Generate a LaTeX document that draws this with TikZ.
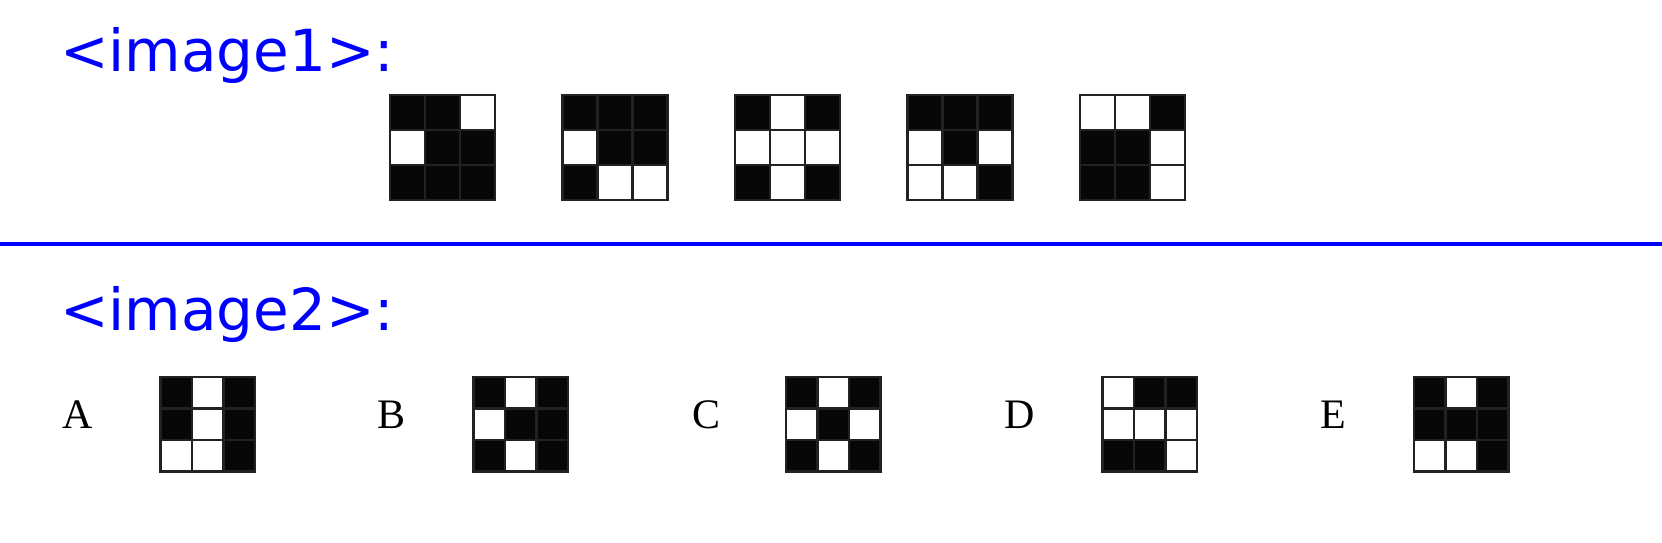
\documentclass[tikz,border=0pt]{standalone}
\usepackage{fontspec}
\setmainfont{Liberation Serif}
\newfontfamily\labfont{DejaVu Sans}
\definecolor{cellblack}{HTML}{070707}
\definecolor{gridline}{HTML}{222222}
\newcommand\drawpat[4]{%
  \foreach \v [count=\i from 0] in {#4} {%
    \pgfmathtruncatemacro\rr{int(\i/3)}%
    \pgfmathtruncatemacro\cc{\i-3*\rr}%
    \ifnum\v=1
      \fill[cellblack] ({#1+\cc*#3/3},{#2+\rr*#3/3}) rectangle ++({#3/3},{#3/3});
    \fi
  }
  \draw[gridline, line width=2.6] (#1,#2) rectangle ++(#3,#3);
  \draw[gridline, line width=2.2] ({#1+#3/3},#2) -- ++(0,#3) ({#1+2*#3/3},#2) -- ++(0,#3)
    (#1,{#2+#3/3}) -- ++(#3,0) (#1,{#2+2*#3/3}) -- ++(#3,0);
}
\tikzset{
  head/.style={text=blue, font=\labfont\fontsize{58}{60}\selectfont, inner sep=0pt, anchor=base west},
  opt/.style={font=\fontsize{42}{44}\selectfont, inner sep=0pt, anchor=base}
}
\begin{document}
\begin{tikzpicture}[x=1pt,y=-1pt]
\useasboundingbox[fill=white] (0,0) rectangle (1662,543);
\node[head] (h1) at (60,71) {<image1>:};
\node[head] (h2) at (60,330) {<image2>:};
\draw[blue, line width=4] (0,244) -- (1662,244);
% top row
\drawpat{390}{95}{105}{1,1,0,0,1,1,1,1,1}
\drawpat{562.5}{95}{105}{1,1,1,0,1,1,1,0,0}
\drawpat{735}{95}{105}{1,0,1,0,0,0,1,0,1}
\drawpat{907.5}{95}{105}{1,1,1,0,1,0,0,0,1}
\drawpat{1080}{95}{105}{0,0,1,1,1,0,1,1,0}
% options
\node[opt] (la) at (78,428) {A};
\node[opt] (lb) at (392,428) {B};
\node[opt] (lc) at (706,428) {C};
\node[opt] (ld) at (1020,428) {D};
\node[opt] (le) at (1333,428) {E};
\drawpat{160.5}{377}{94.5}{1,0,1,1,0,1,0,0,1}
\drawpat{473.5}{377}{94.5}{1,0,1,0,1,1,1,0,1}
\drawpat{786}{377}{94.5}{1,0,1,0,1,0,1,0,1}
\drawpat{1102.5}{377}{94.5}{0,1,1,0,0,0,1,1,0}
\drawpat{1414}{377}{94.5}{1,0,1,1,1,1,0,0,1}
\end{tikzpicture}
\end{document}
